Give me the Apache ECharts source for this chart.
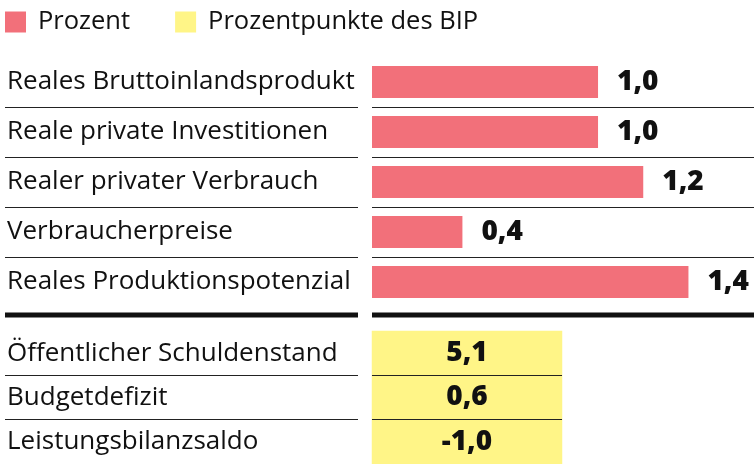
<!DOCTYPE html>
<html>
<head>
<meta charset="utf-8">
<script src="https://cdn.jsdelivr.net/npm/echarts@6/dist/echarts.min.js"></script>
<style>html,body{margin:0;padding:0;background:#fff}#c{width:754px;height:464px}</style>
</head>
<body>
<div id="c"></div>
<script>
const legendLabels = ['Prozent', 'Prozentpunkte des BIP'];
const categoriesTop = ['Reales Bruttoinlandsprodukt', 'Reale private Investitionen', 'Realer privater Verbrauch', 'Verbraucherpreise', 'Reales Produktionspotenzial'];
const valuesTop = [1.0, 1.0, 1.2, 0.4, 1.4];
const categoriesBottom = ['Öffentlicher Schuldenstand', 'Budgetdefizit', 'Leistungsbilanzsaldo'];
const valuesBottom = [5.1, 0.6, -1.0];
const tableColumn = ['BIP'];

const FONT = 'Open Sans';
const RED = '#f2707a';
const YELLOW = '#fff587';
const fmt = v => v.toFixed(1).replace('.', ',');

const chart = echarts.init(document.getElementById('c'), null, {renderer: 'canvas'});

const splitLine = {show: true, showMinLine: false, showMaxLine: false, lineStyle: {color: '#222', width: 1.2}};
function catAxis(gridIndex, data, withLabels, z) {
  return {
    type: 'category', gridIndex, data, inverse: true,
    axisLine: {show: false}, axisTick: {show: false},
    splitLine,
    z: z || 0,
    axisLabel: withLabels ? {show: true, inside: true, margin: 2, fontFamily: FONT, fontSize: 26, color: '#111'} : {show: false}
  };
}
const valueLabel = {fontFamily: FONT, fontWeight: 800, fontSize: 28, color: '#111'};

chart.setOption({
  animation: false,
  textStyle: {fontFamily: FONT},
  legend: {
    data: legendLabels, left: 5, top: 9, padding: 0, itemWidth: 21, itemHeight: 21, itemGap: 45, icon: 'rect',
    textStyle: {fontFamily: FONT, fontSize: 25.5, color: '#111', padding: [0, 0, 0, 7]}
  },
  grid: [
    {left: 5, width: 353, top: 57, height: 250},
    {left: 372, right: 0, top: 57, height: 250},
    {left: 5, width: 353, top: 331, height: 136.5},
    {left: 372, width: 190, top: 331, height: 136.5}
  ],
  xAxis: [
    {type: 'value', gridIndex: 0, min: 0, max: 1, show: false},
    {type: 'value', gridIndex: 1, min: 0, max: 1.69, show: false},
    {type: 'value', gridIndex: 2, min: 0, max: 1, show: false},
    {type: 'category', gridIndex: 3, data: tableColumn, show: false}
  ],
  yAxis: [
    catAxis(0, categoriesTop, true),
    catAxis(1, categoriesTop, false),
    catAxis(2, categoriesBottom, true),
    catAxis(3, categoriesBottom, false, 5)
  ],
  graphic: [
    {type: 'line', shape: {x1: 5, y1: 315, x2: 358, y2: 315}, style: {stroke: '#111', lineWidth: 5}},
    {type: 'line', shape: {x1: 372, y1: 315, x2: 754, y2: 315}, style: {stroke: '#111', lineWidth: 5}}
  ],
  series: [
    {
      name: legendLabels[0], type: 'bar', xAxisIndex: 1, yAxisIndex: 1,
      data: valuesTop, barWidth: 32, itemStyle: {color: RED},
      label: Object.assign({show: true, position: 'right', distance: 19, formatter: p => fmt(p.value)}, valueLabel)
    },
    {
      name: legendLabels[1], type: 'heatmap', xAxisIndex: 3, yAxisIndex: 3,
      data: valuesBottom.map((v, i) => [0, i, v]),
      itemStyle: {color: YELLOW},
      label: Object.assign({show: true, formatter: p => fmt(p.value[2])}, valueLabel)
    }
  ]
});
</script>
</body>
</html>
